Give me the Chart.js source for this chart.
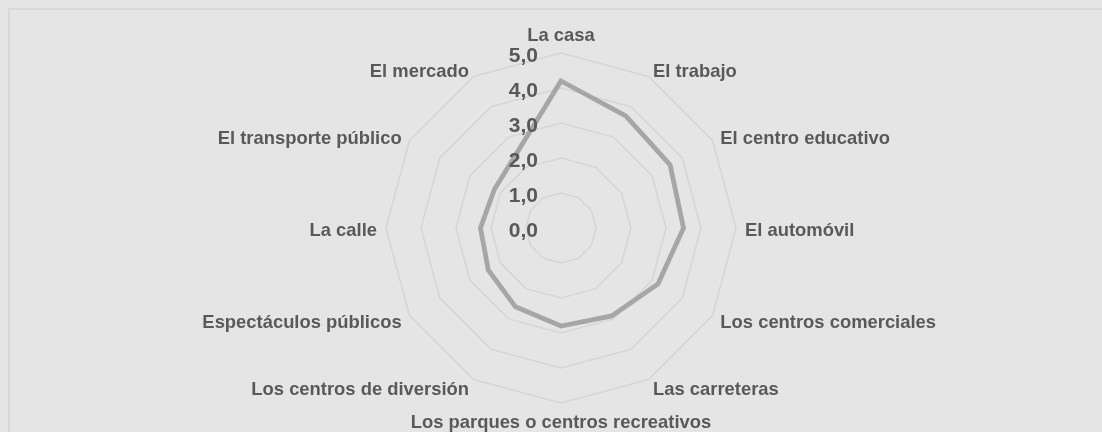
<!DOCTYPE html>
<html><head><meta charset="utf-8">
<script src="https://cdn.jsdelivr.net/npm/chart.js@4"></script>
<style>html,body{margin:0;padding:0;background:#e5e5e5;}canvas{display:block}</style>
</head><body>
<canvas id="c" width="1102" height="432"></canvas>
<script>
const categories = ['La casa','El trabajo','El centro educativo','El automóvil','Los centros comerciales','Las carreteras','Los parques o centros recreativos','Los centros de diversión','Espectáculos públicos','La calle','El transporte público','El mercado'];
const values = [4.2, 3.7, 3.6, 3.5, 3.2, 2.9, 2.8, 2.6, 2.4, 2.3, 2.2, 2.5];
const tickValues = [0, 1, 2, 3, 4, 5];
const tickLabels = ['0,0', '1,0', '2,0', '3,0', '4,0', '5,0'];

const FONT = '"Liberation Sans", Arial, sans-serif';
const TEXT_COLOR = '#595959';

const framePlugin = {
  id: 'frame',
  beforeDraw(chart) {
    const ctx = chart.ctx;
    ctx.save();
    ctx.fillStyle = '#e5e5e5';
    ctx.fillRect(0, 0, chart.width, chart.height);
    ctx.strokeStyle = '#d8d8d8';
    ctx.lineWidth = 2;
    ctx.beginPath();
    ctx.moveTo(9, chart.height);
    ctx.lineTo(9, 9);
    ctx.lineTo(chart.width, 9);
    ctx.stroke();
    ctx.restore();
  }
};

const textPlugin = {
  id: 'radarText',
  afterDraw(chart) {
    const s = chart.scales.r;
    const ctx = chart.ctx;
    ctx.save();
    ctx.fillStyle = TEXT_COLOR;
    ctx.textBaseline = 'middle';
    ctx.font = 'bold 18.4px ' + FONT;
    chart.data.labels.forEach((lab, i) => {
      const p = s.getPointPosition(i, s.drawingArea + 9);
      const a = Math.round((((p.angle + Math.PI / 2) * 180 / Math.PI) + 360) % 360);
      let x = p.x, y = p.y;
      if (a === 0) { ctx.textAlign = 'center'; y -= 8; }
      else if (a === 180) { ctx.textAlign = 'center'; y += 11; }
      else if (a < 180) { ctx.textAlign = 'left'; y += 3; }
      else { ctx.textAlign = 'right'; y += 3; }
      ctx.fillText(lab, x, y);
    });
    ctx.font = 'bold 21px ' + FONT;
    ctx.textAlign = 'right';
    tickValues.forEach((v, k) => {
      const p = s.getPointPositionForValue(0, v);
      ctx.fillText(tickLabels[k], p.x - 23, p.y + 3);
    });
    ctx.restore();
  }
};

new Chart(document.getElementById('c'), {
  type: 'radar',
  data: {
    labels: categories,
    datasets: [{
      data: values,
      borderColor: '#a6a6a6',
      borderWidth: 4.8,
      pointRadius: 0,
      pointHoverRadius: 0,
      fill: false,
      tension: 0
    }]
  },
  options: {
    responsive: false,
    animation: false,
    devicePixelRatio: 1,
    layout: { padding: { top: 53, bottom: 29, left: 20, right: 0 } },
    plugins: { legend: { display: false }, tooltip: { enabled: false } },
    scales: {
      r: {
        min: 0,
        max: 5,
        ticks: { stepSize: 1, display: false },
        grid: { color: '#d6d6d6', lineWidth: 1.5 },
        angleLines: { display: false },
        pointLabels: { display: false }
      }
    }
  },
  plugins: [framePlugin, textPlugin]
});
</script>
</body></html>
